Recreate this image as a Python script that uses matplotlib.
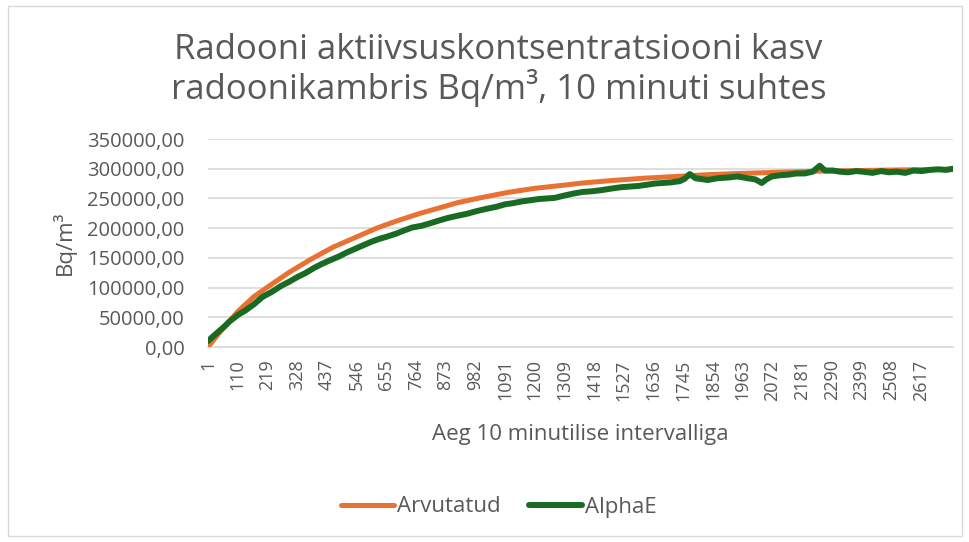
import matplotlib.pyplot as plt
from matplotlib.patches import Rectangle

# x values are the row number (10-minute steps), y values in Bq/m3
arv_t = [1, 50, 111, 170, 236, 300, 380, 460, 550, 620, 693, 780, 850, 918,
         1000, 1100, 1200, 1300, 1377, 1480, 1600, 1720, 1835, 1950, 2100,
         2250, 2400, 2550, 2735]
arv_y = [0, 28000, 60000, 85000, 106000, 126000, 148000, 168000, 186000,
         200000, 212000, 225000, 234000, 243000, 251000, 260000, 267000,
         272000, 276000, 280000, 284000, 287000, 290000, 292000, 294000,
         296000, 297000, 298000, 299000]

alpha_t = [1, 20, 40, 60, 80, 111, 140, 170, 200, 236, 270, 300, 330, 357,
           390, 420, 449, 480, 510, 540, 570, 600, 630, 660, 693, 720, 750,
           785, 815, 850, 880, 918, 950, 990, 1028, 1060, 1090, 1120, 1153,
           1185, 1215, 1245, 1274, 1310, 1340, 1377, 1410, 1445, 1487, 1520,
           1550, 1580, 1611, 1640, 1670, 1700, 1732, 1750, 1769, 1790, 1835,
           1870, 1905, 1945, 1980, 2010, 2033, 2050, 2070, 2100, 2130, 2160,
           2191, 2220, 2246, 2265, 2294, 2320, 2350, 2380, 2404, 2440, 2470,
           2500, 2528, 2560, 2590, 2620, 2649, 2680, 2710, 2735]
alpha_y = [10000, 18000, 26000, 34000, 43000, 54000, 62000, 72000, 84000,
           93000, 103000, 110000, 118000, 124000, 133000, 140000, 146000,
           152000, 159000, 165000, 171000, 177000, 182000, 186000, 191000,
           196000, 201000, 204000, 208000, 213000, 217000, 221000, 224000,
           229000, 233000, 236000, 240000, 242000, 245000, 247000, 249000,
           250000, 251000, 255000, 258000, 261000, 262000, 264000, 267000,
           269000, 270000, 271000, 273000, 275000, 276000, 277000, 279000,
           283000, 291000, 284000, 281000, 284000, 285000, 287000, 284000,
           282000, 276000, 282000, 287000, 289000, 290000, 292000, 292000,
           295000, 305000, 297000, 297000, 295000, 294000, 296000, 295000,
           293000, 296000, 294000, 295000, 293000, 297000, 296000, 298000,
           299000, 298000, 300000]

x_ticks = list(range(1, 2618, 109))
y_ticks = list(range(0, 350001, 50000))

plt.rcParams['font.family'] = ['Open Sans', 'DejaVu Sans']
grey = '#595959'

fig = plt.figure(figsize=(9.7, 5.42), dpi=100)
ax = fig.add_axes([208 / 970, 1 - 347 / 542, 745 / 970, 208 / 542])

ax.plot(arv_t, arv_y, color='#E97132', lw=3.6, solid_capstyle='round',
        label='Arvutatud', zorder=3)
ax.plot(alpha_t, alpha_y, color='#196B24', lw=4.3, solid_capstyle='round',
        solid_joinstyle='round', label='AlphaE', zorder=4)

ax.set_xlim(1, 2735)
ax.set_ylim(0, 350000)
ax.set_xticks(x_ticks)
ax.set_xticklabels([str(t) for t in x_ticks], rotation=90, fontsize=13,
                   color=grey, va='top')
ax.set_yticks(y_ticks)
ax.set_yticklabels([f'{v},00' for v in y_ticks], fontsize=14.5, color=grey)
ax.tick_params(axis='both', length=0)
ax.tick_params(axis='x', pad=9)
ax.tick_params(axis='y', pad=17)
ax.grid(axis='y', color='#D9D9D9', lw=1.2)
ax.set_axisbelow(True)
for s in ['top', 'right', 'left']:
    ax.spines[s].set_visible(False)
ax.spines['bottom'].set_color('#D9D9D9')
ax.spines['bottom'].set_linewidth(1.2)

ax.set_ylabel('Bq/m³', fontsize=16, color=grey, labelpad=8)
ax.set_xlabel('Aeg 10 minutilise intervalliga', fontsize=16, color=grey,
              labelpad=17)

fig.text(0.514, 1 - 70 / 542,
         'Radooni aktiivsuskontsentratsiooni kasv\nradoonikambris Bq/m³, 10 minuti suhtes',
         ha='center', va='center', fontsize=25, color=grey, linespacing=1.08)

fig.legend(loc='center', bbox_to_anchor=(0.514, 1 - 507 / 542), ncol=2,
           frameon=False, fontsize=16, labelcolor=grey, handlelength=2.4,
           handletextpad=0.1, columnspacing=1.3)

fig.patches.append(Rectangle((8 / 970, 6 / 542), 954 / 970, 530 / 542,
                             transform=fig.transFigure, fill=False,
                             edgecolor='#D9D9D9', lw=1))

fig.savefig('out.png', dpi=100)
